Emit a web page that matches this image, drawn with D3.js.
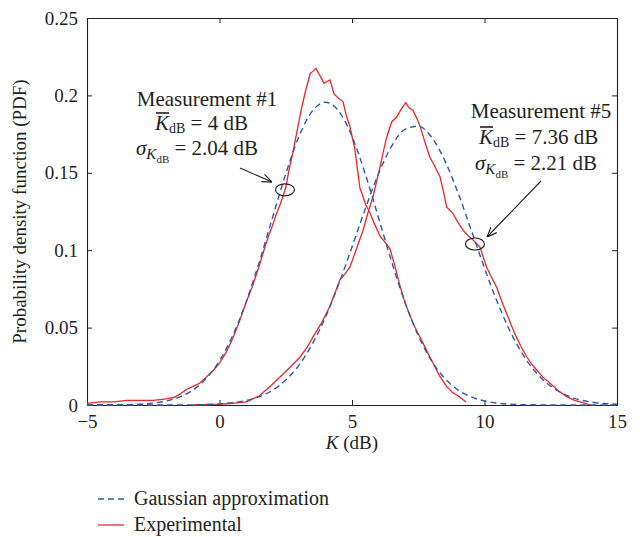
<!DOCTYPE html>
<html>
<head>
<meta charset="utf-8">
<style>
body { margin: 0; background: #fff; }
text { font-family: "Liberation Serif", "DejaVu Serif", serif; fill: #231f20; }
</style>
<script src="https://d3js.org/d3.v7.min.js"></script>
</head>
<body>
<div id="chart"></div>
<script>
// K grid (dB) for the Gaussian approximations
var kGrid = [-5,-4.5,-4,-3.5,-3,-2.5,-2,-1.5,-1,-0.5,0,0.5,1,1.5,2,2.5,3,3.5,4,4.5,5,5.5,6,6.5,7,7.5,8,8.5,9,9.5,10,10.5,11,11.5,12,12.5,13,13.5,14,14.5,15];

// Gaussian approximation, measurement #1
var gauss1 = [0,0,0.0001,0.0002,0.0005,0.0012,0.0026,0.0052,0.0097,0.0172,0.0286,0.0449,0.0663,0.0923,0.1210,0.1493,0.1735,0.1898,0.1956,0.1898,0.1735,0.1493,0.1210,0.0923,0.0663,0.0449,0.0286,0.0172,0.0097,0.0052,0.0026,0.0012,0.0005,0.0002,0.0001,0,0,0,0,0,0];
// Gaussian approximation, measurement #5
var gauss5 = [0,0,0,0,0,0,0,0.0001,0.0001,0.0003,0.0007,0.0015,0.0029,0.0054,0.0095,0.0161,0.0258,0.0393,0.0568,0.0781,0.1021,0.1267,0.1494,0.1673,0.1781,0.1801,0.1731,0.1580,0.1371,0.1130,0.0884,0.0658,0.0465,0.0312,0.0199,0.0121,0.0070,0.0038,0.0020,0.0010,0.0005];

// experimental PDF, measurement #1
var exp1K = [-5,-4.5,-4,-3.5,-3,-2.5,-2,-1.7,-1.5,-1.25,-1,-0.75,-0.5,-0.25,0,0.25,0.5,0.75,1,1.25,1.5,1.75,1.85,2,2.16,2.3,2.51,2.6,2.77,2.96,3.1,3.25,3.42,3.55,3.64,3.75,3.85,3.94,4.05,4.17,4.32,4.5,4.66,4.8,4.92,5.11,5.3,5.37,5.5,5.68,5.85,6.06,6.25,6.43,6.6,6.81,7,7.3,7.5,7.68,7.85,8.06,8.3,8.57,8.8,9,9.3];
var exp1P = [0.001,0.002,0.002,0.003,0.003,0.003,0.004,0.005,0.007,0.010,0.012,0.014,0.018,0.022,0.027,0.034,0.043,0.054,0.066,0.077,0.090,0.104,0.109,0.116,0.124,0.130,0.141,0.150,0.163,0.180,0.192,0.203,0.214,0.216,0.2175,0.214,0.211,0.2078,0.209,0.210,0.201,0.198,0.196,0.186,0.180,0.165,0.140,0.137,0.130,0.124,0.117,0.109,0.105,0.101,0.091,0.077,0.066,0.053,0.046,0.040,0.034,0.027,0.019,0.012,0.008,0.006,0.002];

// experimental PDF, measurement #5
var exp5K = [-1,0,0.5,1,1.15,1.5,1.78,2.1,2.4,2.7,3.04,3.3,3.53,3.85,4.17,4.35,4.55,4.75,4.92,5.15,5.42,5.6,5.8,6.06,6.2,6.31,6.5,6.69,6.85,7.03,7.15,7.3,7.45,7.57,7.75,7.94,8.1,8.32,8.45,8.57,8.8,9,9.19,9.4,9.57,9.83,10.08,10.25,10.46,10.65,10.84,11,11.2,11.4,11.6,11.8,11.97,12.2,12.47,12.8,13.1,13.4,13.7,14];
var exp5P = [0,0.0005,0.001,0.002,0.003,0.006,0.010,0.015,0.020,0.025,0.031,0.037,0.044,0.053,0.064,0.072,0.081,0.085,0.089,0.100,0.113,0.124,0.135,0.154,0.165,0.173,0.183,0.186,0.191,0.1953,0.192,0.1905,0.185,0.180,0.170,0.160,0.155,0.1475,0.138,0.128,0.124,0.118,0.113,0.109,0.1066,0.102,0.089,0.083,0.076,0.067,0.059,0.052,0.044,0.037,0.031,0.026,0.0226,0.018,0.014,0.009,0.0054,0.003,0.0015,0];

var xTicks = [-5, 0, 5, 10, 15];
var yTicks = [0, 0.05, 0.1, 0.15, 0.2, 0.25];
var yTickLabels = ["0", "0.05", "0.1", "0.15", "0.2", "0.25"];

var W = 643, H = 537;
var margin = {top: 18, right: 26, bottom: 132, left: 87};
var width = W - margin.left - margin.right,
    height = H - margin.top - margin.bottom;

var blue = "#2b5aa8", red = "#e8262b";

var svg = d3.select("#chart").append("svg")
    .attr("width", W).attr("height", H);
var g = svg.append("g")
    .attr("transform", "translate(" + margin.left + "," + margin.top + ")");

var x = d3.scaleLinear().domain([-5, 15]).range([0, width]);
var y = d3.scaleLinear().domain([0, 0.25]).range([height, 0]);

// axes, matlab style ticks pointing inwards
g.append("g")
  .attr("transform", "translate(0," + height + ")")
  .call(d3.axisBottom(x).tickValues(xTicks).tickSizeInner(-5).tickSizeOuter(0).tickPadding(10)
    .tickFormat(function(d){ return d < 0 ? "\u2212" + Math.abs(d) : d; }));
g.append("g")
  .call(d3.axisTop(x).tickValues(xTicks).tickSizeInner(-5).tickSizeOuter(0).tickFormat(""));
g.append("g")
  .call(d3.axisLeft(y).tickValues(yTicks).tickSizeInner(-5).tickSizeOuter(0).tickPadding(9)
    .tickFormat(function(d, i){ return yTickLabels[i]; }));
g.append("g")
  .attr("transform", "translate(" + width + ",0)")
  .call(d3.axisRight(y).tickValues(yTicks).tickSizeInner(-5).tickSizeOuter(0).tickFormat(""));

g.selectAll(".domain").attr("stroke", "#231f20").attr("stroke-width", 1.1);
g.selectAll(".tick line").attr("stroke", "#231f20");
g.selectAll(".tick text").style("font-family", "Liberation Serif").style("font-size", "19px").attr("fill", "#231f20");

// axis labels
svg.append("text")
  .attr("transform", "translate(26," + (margin.top + height / 2) + ") rotate(-90)")
  .attr("text-anchor", "middle")
  .style("font-size", "19px")
  .text("Probability density function (PDF)");

var xl = svg.append("text")
  .attr("x", margin.left + width / 2)
  .attr("y", 449)
  .attr("text-anchor", "middle")
  .style("font-size", "19px");
xl.append("tspan").style("font-style", "italic").text("K");
xl.append("tspan").text(" (dB)");

// curves
var gLine = d3.line()
  .x(function(d, i){ return x(kGrid[i]); })
  .y(function(d){ return y(d); })
  .curve(d3.curveMonotoneX);

function expLine(ks) {
  return d3.line()
    .x(function(d, i){ return x(ks[i]); })
    .y(function(d){ return y(d); });
}

g.append("path").datum(exp1P).attr("d", expLine(exp1K))
  .attr("fill", "none").attr("stroke", red).attr("stroke-width", 1.3);
g.append("path").datum(exp5P).attr("d", expLine(exp5K))
  .attr("fill", "none").attr("stroke", red).attr("stroke-width", 1.3);
g.append("path").datum(gauss1).attr("d", gLine)
  .attr("fill", "none").attr("stroke", blue).attr("stroke-width", 1.4).attr("stroke-dasharray", "6,4");
g.append("path").datum(gauss5).attr("d", gLine)
  .attr("fill", "none").attr("stroke", blue).attr("stroke-width", 1.4).attr("stroke-dasharray", "6,4");

// annotations
svg.append("defs").append("marker")
  .attr("id", "arr").attr("viewBox", "0 0 10 10").attr("refX", 10).attr("refY", 5)
  .attr("markerWidth", 9).attr("markerHeight", 9).attr("orient", "auto")
  .append("path").attr("d", "M0,1 L10,5 L0,9").attr("fill", "none").attr("stroke", "#231f20").attr("stroke-width", 1.2);

function annotate(cx, title, kbar, sig, ellipse, arrowFrom, arrowTo) {
  var a = svg.append("g");
  a.append("text").attr("x", cx).attr("y", title.y)
    .attr("text-anchor", "middle").style("font-size", "21px").text(title.t);
  var t2 = a.append("text").attr("x", kbar.x).attr("y", kbar.y).style("font-size", "21px");
  t2.append("tspan").style("font-style", "italic").text("K");
  t2.append("tspan").attr("dy", 3).style("font-size", "14px").text("dB");
  t2.append("tspan").attr("dy", -3).text(" = " + kbar.v);
  // bar over K
  a.append("line").attr("x1", kbar.x + 1).attr("x2", kbar.x + 14)
    .attr("y1", kbar.y - 17).attr("y2", kbar.y - 17).attr("stroke", "#231f20").attr("stroke-width", 1.6);
  var t3 = a.append("text").attr("x", sig.x).attr("y", sig.y).style("font-size", "21px");
  t3.append("tspan").style("font-style", "italic").text("\u03c3");
  t3.append("tspan").attr("dy", 4).style("font-size", "15px").style("font-style", "italic").text("K");
  t3.append("tspan").attr("dy", 4).style("font-size", "11px").text("dB");
  t3.append("tspan").attr("dy", -8).text(" = " + sig.v);
  a.append("ellipse").attr("cx", x(ellipse[0]) + margin.left).attr("cy", y(ellipse[1]) + margin.top)
    .attr("rx", 9.5).attr("ry", 6).attr("fill", "none").attr("stroke", "#231f20").attr("stroke-width", 1.2);
  a.append("line").attr("x1", arrowFrom[0]).attr("y1", arrowFrom[1])
    .attr("x2", arrowTo[0]).attr("y2", arrowTo[1])
    .attr("stroke", "#231f20").attr("stroke-width", 1.1).attr("marker-end", "url(#arr)");
}

annotate(207, {t: "Measurement #1", y: 106}, {x: 155, y: 130, v: "4 dB"},
  {x: 136, y: 155, v: "2.04 dB"}, [2.47, 0.139], [240, 168], [272, 182]);
annotate(541, {t: "Measurement #5", y: 118}, {x: 479, y: 144, v: "7.36 dB"},
  {x: 475, y: 170, v: "2.21 dB"}, [9.64, 0.104], [541, 181], [487, 237]);

// legend
var leg = svg.append("g");
leg.append("line").attr("x1", 98).attr("x2", 124).attr("y1", 499).attr("y2", 499)
  .attr("stroke", blue).attr("stroke-width", 1.4).attr("stroke-dasharray", "6,4");
leg.append("text").attr("x", 134).attr("y", 505).style("font-size", "20px").text("Gaussian approximation");
leg.append("line").attr("x1", 98).attr("x2", 124).attr("y1", 525).attr("y2", 525)
  .attr("stroke", red).attr("stroke-width", 1.3);
leg.append("text").attr("x", 134).attr("y", 531).style("font-size", "20px").text("Experimental");
</script>
</body>
</html>
